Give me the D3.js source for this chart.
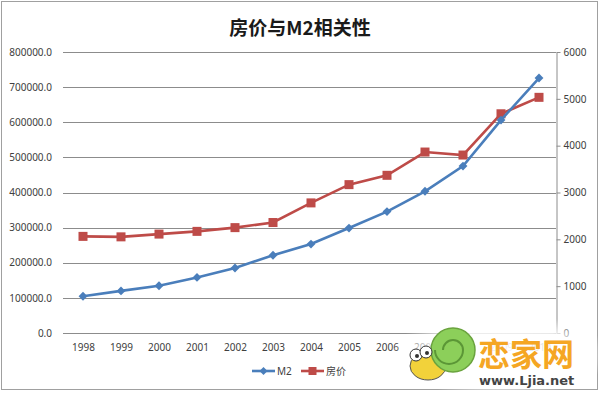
<!DOCTYPE html>
<html>
<head>
<meta charset="utf-8">
<script src="https://cdn.jsdelivr.net/npm/d3@7/dist/d3.min.js"></script>
<style>
  body { margin: 0; background: #fff; }
  svg text { font-family: "Noto Sans", "Noto Sans CJK SC", sans-serif; fill: #404040; }
  .axis text { font-size: 10px; }
</style>
</head>
<body>
<div id="chart"></div>
<script>
// data
var years = ["1998","1999","2000","2001","2002","2003","2004","2005","2006","2007","2008","2009","2010"];
var m2 = [104498.5, 119897.9, 134610.3, 158301.9, 185007.0, 221222.8, 253207.7, 298755.7, 345603.6, 403442.2, 475166.6, 606225.0, 725851.8];
var housePrice = [2063, 2053, 2112, 2170, 2250, 2359, 2778, 3168, 3367, 3864, 3800, 4681, 5032];
var leftTicks = [0, 100000, 200000, 300000, 400000, 500000, 600000, 700000, 800000];
var rightTicks = [0, 1000, 2000, 3000, 4000, 5000, 6000];

var width = 600, height = 393;
var plot = {left: 64, right: 558, top: 52, bottom: 333};

var svg = d3.select("#chart").append("svg")
    .attr("width", width)
    .attr("height", height);

svg.append("rect")
    .attr("x", 1.5).attr("y", 1.5)
    .attr("width", 596).attr("height", 388)
    .attr("fill", "#fff")
    .attr("stroke", "#a0a0a0");

// scales
var x = d3.scalePoint()
    .domain(years)
    .range([plot.left, plot.right])
    .padding(0.5);

var yLeft = d3.scaleLinear()
    .domain([0, 800000])
    .range([plot.bottom, plot.top]);

var yRight = d3.scaleLinear()
    .domain([0, 6000])
    .range([plot.bottom, plot.top]);

// gridlines
svg.append("g")
    .selectAll("line")
    .data(leftTicks)
  .enter().append("line")
    .attr("x1", plot.left - 1)
    .attr("x2", plot.right - 2)
    .attr("y1", function(d) { return Math.round(yLeft(d)) + 0.5; })
    .attr("y2", function(d) { return Math.round(yLeft(d)) + 0.5; })
    .attr("stroke", "#8c8c8c")
    .attr("stroke-width", 1);

// left axis, labels only
var leftAxis = svg.append("g")
    .attr("class", "axis")
    .attr("transform", "translate(" + (plot.left - 8) + ",0)")
    .call(d3.axisLeft(yLeft).tickValues(leftTicks).tickSize(0).tickFormat(d3.format(".1f")));
leftAxis.select(".domain").remove();
leftAxis.selectAll("text").attr("dx", "-0.1em");

// right axis
var rightAxis = svg.append("g")
    .attr("class", "axis")
    .attr("transform", "translate(" + (plot.right - 1.5) + ",0)")
    .call(d3.axisRight(yRight).tickValues(rightTicks).tickSize(4).tickSizeOuter(0).tickFormat(d3.format("d")));
rightAxis.select(".domain").attr("stroke", "#8c8c8c");
rightAxis.selectAll(".tick line").attr("stroke", "#8c8c8c");
rightAxis.selectAll("text").attr("x", 7);

// x labels
var xAxis = svg.append("g")
    .attr("class", "axis")
    .attr("transform", "translate(0," + (plot.bottom + 8) + ")")
    .call(d3.axisBottom(x).tickSize(0));
xAxis.select(".domain").remove();

// lines
var lineM2 = d3.line()
    .x(function(d, i) { return x(years[i]); })
    .y(function(d) { return yLeft(d); });
var linePrice = d3.line()
    .x(function(d, i) { return x(years[i]); })
    .y(function(d) { return yRight(d); });

var blue = "#4a7ebb", red = "#be4b48";

svg.append("path")
    .datum(housePrice)
    .attr("d", linePrice)
    .attr("fill", "none")
    .attr("stroke", red)
    .attr("stroke-width", 2.6);

svg.selectAll(".sq")
    .data(housePrice)
  .enter().append("rect")
    .attr("class", "sq")
    .attr("x", function(d, i) { return x(years[i]) - 4.5; })
    .attr("y", function(d) { return yRight(d) - 4.5; })
    .attr("width", 9).attr("height", 9)
    .attr("fill", red);

svg.append("path")
    .datum(m2)
    .attr("d", lineM2)
    .attr("fill", "none")
    .attr("stroke", blue)
    .attr("stroke-width", 2.6);

var diamond = d3.symbol().type(d3.symbolDiamond2).size(50);
svg.selectAll(".dia")
    .data(m2)
  .enter().append("path")
    .attr("class", "dia")
    .attr("d", diamond)
    .attr("transform", function(d, i) { return "translate(" + x(years[i]) + "," + yLeft(d) + ")"; })
    .attr("fill", blue);

// title
svg.append("text")
    .attr("x", 300).attr("y", 35)
    .attr("text-anchor", "middle")
    .style("font-family", "'Noto Sans CJK SC', sans-serif")
    .style("font-size", "19px")
    .style("font-weight", "bold")
    .style("fill", "#1a1a1a")
    .text("房价与M2相关性");

// legend
var legend = svg.append("g").attr("transform", "translate(0,371)");
legend.append("line").attr("x1", 252).attr("x2", 275).attr("y1", 0).attr("y2", 0)
    .attr("stroke", blue).attr("stroke-width", 2.6);
legend.append("path").attr("d", d3.symbol().type(d3.symbolDiamond2).size(40))
    .attr("transform", "translate(263.5,0)").attr("fill", blue);
legend.append("text").attr("x", 277).attr("y", 4).style("font-size", "10px").text("M2");
legend.append("line").attr("x1", 301).attr("x2", 324).attr("y1", 0).attr("y2", 0)
    .attr("stroke", red).attr("stroke-width", 2.6);
legend.append("rect").attr("x", 308.5).attr("y", -4).attr("width", 8).attr("height", 8).attr("fill", red);
legend.append("text").attr("x", 326).attr("y", 4).style("font-size", "10px")
    .style("font-family", "'Noto Sans CJK SC', sans-serif").text("房价");

// watermark
var defs = svg.append("defs");
var glow = defs.append("radialGradient").attr("id", "glow");
glow.append("stop").attr("offset", "0%").attr("stop-color", "#fff").attr("stop-opacity", 0.95);
glow.append("stop").attr("offset", "70%").attr("stop-color", "#fff").attr("stop-opacity", 0.8);
glow.append("stop").attr("offset", "100%").attr("stop-color", "#fff").attr("stop-opacity", 0);
var wm = svg.append("g");
wm.append("ellipse").attr("cx", 500).attr("cy", 355).attr("rx", 110).attr("ry", 42).attr("fill", "url(#glow)");
wm.append("ellipse").attr("cx", 428).attr("cy", 366).attr("rx", 18).attr("ry", 14).attr("fill", "#f2d23a").attr("stroke", "#555").attr("stroke-width", 1);
wm.append("circle").attr("cx", 453).attr("cy", 350).attr("r", 22).attr("fill", "#8ccf5a").attr("stroke", "#6aa33e").attr("stroke-width", 1.5);
wm.append("path").attr("d", "M453,350 m-10,0 a10,10 0 1,1 20,0 a14,14 0 1,1 -28,0").attr("fill", "none").attr("stroke", "#5b9636").attr("stroke-width", 2);
wm.append("circle").attr("cx", 416).attr("cy", 355).attr("r", 6).attr("fill", "#fff").attr("stroke", "#333");
wm.append("circle").attr("cx", 426).attr("cy", 352).attr("r", 6).attr("fill", "#fff").attr("stroke", "#333");
wm.append("circle").attr("cx", 417).attr("cy", 356).attr("r", 2).attr("fill", "#333");
wm.append("circle").attr("cx", 427).attr("cy", 353).attr("r", 2).attr("fill", "#333");
wm.append("text").attr("x", 478).attr("y", 366)
    .style("font-family", "'Noto Sans CJK SC', sans-serif")
    .style("font-size", "32px").style("font-weight", "bold")
    .style("fill", "#f5a623")
    .text("恋家网");
wm.append("text").attr("x", 479).attr("y", 385)
    .style("font-family", "'DejaVu Sans', sans-serif")
    .style("font-size", "13px").style("font-weight", "bold")
    .style("fill", "#444")
    .text("www.Ljia.net");
</script>
</body>
</html>
